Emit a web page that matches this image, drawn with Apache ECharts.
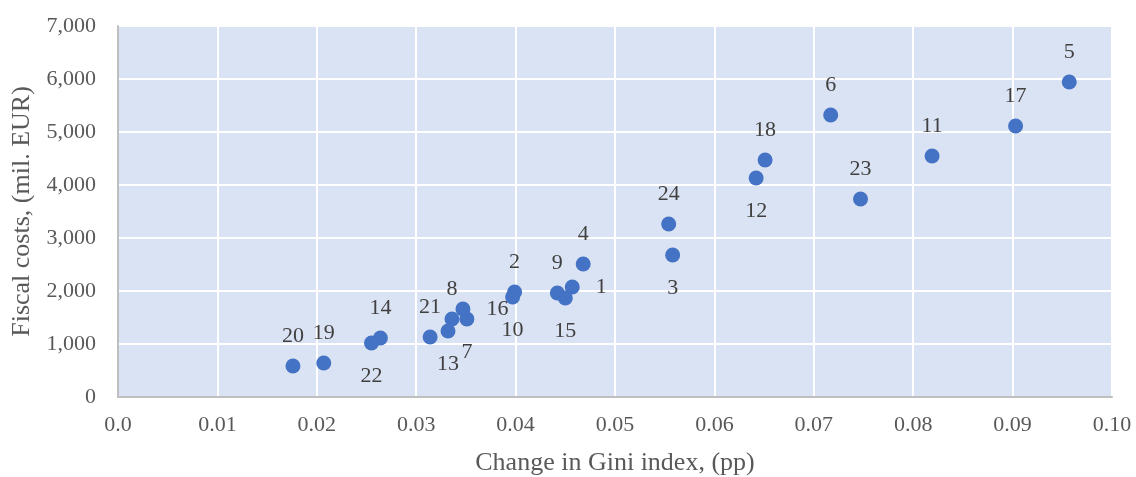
<!DOCTYPE html>
<html>
<head>
<meta charset="utf-8">
<script src="https://cdn.jsdelivr.net/npm/echarts@6/dist/echarts.min.js"></script>
<style>html,body{margin:0;padding:0;background:#fff}#c{width:1136px;height:477px}</style>
</head>
<body>
<div id="c"></div>
<script>
// Data
const ids = [1,2,3,4,5,6,7,8,9,10,11,12,13,14,15,16,17,18,19,20,21,22,23,24];
const giniChange = [0.0457,0.0399,0.0558,0.0468,0.0957,0.0717,0.0351,0.0336,0.0442,0.0397,0.0819,0.0642,0.0332,0.0264,0.0450,0.0347,0.0903,0.0651,0.0207,0.0176,0.0314,0.0255,0.0747,0.0554];
const fiscalCosts = [2075,1981,2679,2509,5943,5321,1472,1472,1962,1887,4547,4132,1245,1113,1868,1660,5113,4472,642,585,1132,1019,3736,3264];
const labelPos = ['right','top','bottom','top','top','top','bottom','top','top','bottom','top','bottom','bottom','top','bottom','right','top','top','top','top','top','bottom','top','top'];
const xTicks = ['0.0','0.01','0.02','0.03','0.04','0.05','0.06','0.07','0.08','0.09','0.10'];

const distFor = {top:11,bottom:15,right:16};
const data = ids.map((id,i)=>({
  value:[giniChange[i], fiscalCosts[i]],
  name:String(id),
  label:{position:labelPos[i], distance: distFor[labelPos[i]]}
}));

const font = '"Liberation Serif","DejaVu Serif",serif';
const chart = echarts.init(document.getElementById('c'));
chart.setOption({
  animation:false,
  grid:{left:118,right:24,top:26,bottom:80,show:true,backgroundColor:'#DAE3F3',borderWidth:0,
    outerBoundsMode:'none',containLabel:false},
  xAxis:{
    type:'value',min:0,max:0.1,interval:0.01,
    name:'Change in Gini index, (pp)',nameLocation:'middle',nameGap:53,
    nameTextStyle:{fontFamily:font,fontSize:26,color:'#595959'},
    axisLine:{show:true,lineStyle:{color:'#BFBFBF',width:2}},
    axisTick:{show:false},
    splitLine:{show:true,lineStyle:{color:'#FFFFFF',width:2}},
    axisLabel:{fontFamily:font,fontSize:22,color:'#595959',margin:17,
      formatter:(v)=>xTicks[Math.round(v*100)]}
  },
  yAxis:{
    type:'value',min:0,max:7000,interval:1000,
    name:'Fiscal costs, (mil. EUR)',nameLocation:'middle',nameGap:83,
    nameTextStyle:{fontFamily:font,fontSize:26,color:'#595959'},
    axisLine:{show:true,lineStyle:{color:'#BFBFBF',width:2}},
    axisTick:{show:false},
    splitLine:{show:true,lineStyle:{color:'#FFFFFF',width:2}},
    axisLabel:{fontFamily:font,fontSize:22,color:'#595959',margin:22,
      formatter:(v)=>v.toLocaleString('en-US')}
  },
  series:[{
    type:'scatter',
    symbolSize:15,
    itemStyle:{color:'#4472C4',opacity:1},
    data:data,
    label:{show:true,formatter:(p)=>p.name,fontFamily:font,fontSize:22,color:'#404040'}
  }]
});
</script>
</body>
</html>
